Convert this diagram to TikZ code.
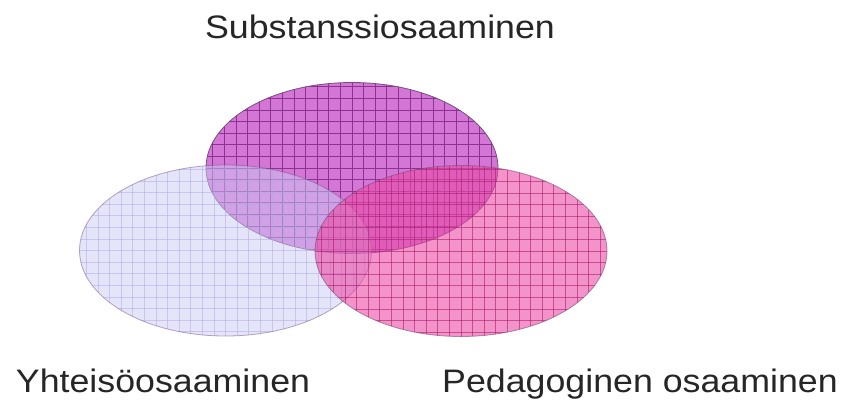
\documentclass[tikz,border=0pt]{standalone}
\usepackage{fontspec}
\usepackage{graphicx}
\setmainfont{Liberation Sans}
\usetikzlibrary{shapes.geometric}
\definecolor{topfill}{RGB}{212,118,214}
\definecolor{topgrid}{RGB}{140,50,145}
\definecolor{leftfill}{RGB}{205,205,245}
\definecolor{leftgrid}{RGB}{175,165,232}
\definecolor{rightfill}{RGB}{235,75,165}
\definecolor{rightgrid}{RGB}{170,30,110}
\definecolor{outl}{RGB}{115,80,125}
\tikzset{
  venn/.style 2 args={ellipse, inner sep=0pt, minimum width=292pt, minimum height=171pt,
    draw=outl, line width=0.8pt, fill=#1,
    path picture={
      \foreach \k in {-14,...,14} {
        \draw[#2, line width=0.75pt]
          ([xshift=\k*11.6pt]path picture bounding box.north) --
          ([xshift=\k*11.6pt]path picture bounding box.south);
      }
      \foreach \k in {-8,...,8} {
        \draw[#2, line width=0.75pt]
          ([yshift=\k*11.6pt]path picture bounding box.west) --
          ([yshift=\k*11.6pt]path picture bounding box.east);
      }
    }},
  lbl/.style={anchor=base, inner sep=0pt, text=black!85, font=\fontsize{32.5}{38}\selectfont}
}
\begin{document}
\begin{tikzpicture}[x=1pt,y=-1pt]
\useasboundingbox (0,0) rectangle (843,405);
\fill[white] (0,0) rectangle (843,405);
\node[venn={topfill}{topgrid}] (sub) at (352,168) {};
\node[venn={leftfill}{leftgrid}, opacity=0.5] (yht) at (225.5,250.5) {};
\node[venn={rightfill}{rightgrid}, opacity=0.6] (ped) at (461,251) {};
\node[lbl] (tsub) at (380,38) {\scalebox{1.1}[1]{Substanssiosaaminen}};
\node[lbl] (tyht) at (163,392) {\scalebox{1.1}[1]{Yhteisöosaaminen}};
\node[lbl] (tped) at (640,392) {\scalebox{1.1}[1]{Pedagoginen osaaminen}};
\end{tikzpicture}
\end{document}
